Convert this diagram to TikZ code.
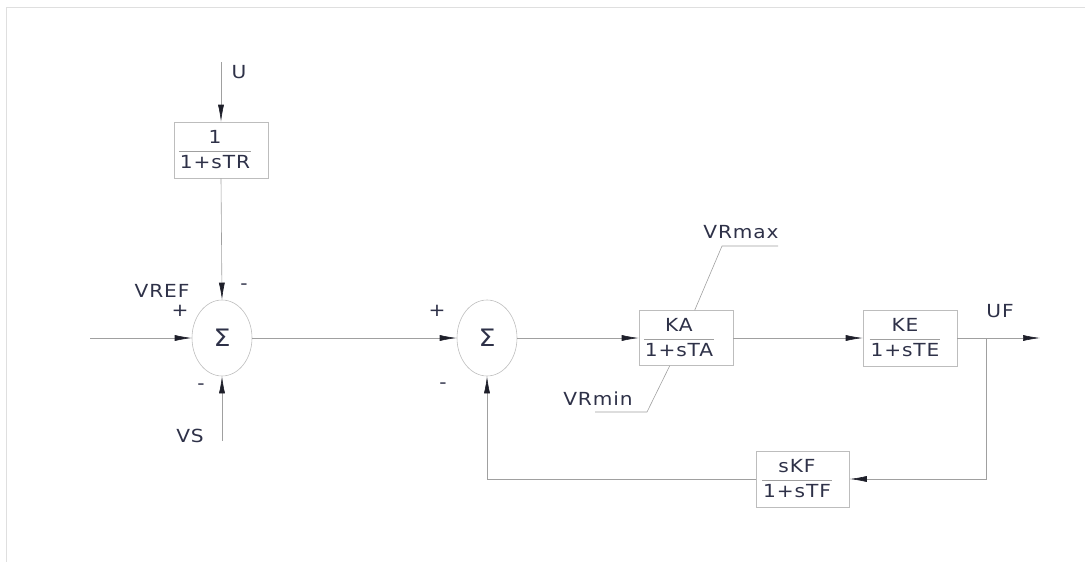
\documentclass[tikz,border=0pt]{standalone}
\usepackage{fontspec}
\setmainfont[FakeStretch=1.12,LetterSpace=5]{DejaVu Sans}
\usetikzlibrary{arrows.meta,shapes.geometric}
\usepackage{colortbl}
\definecolor{txt}{HTML}{2E3148}
\definecolor{wire}{HTML}{A0A0A0}
\definecolor{boxc}{HTML}{BDBDBD}
\definecolor{tipc}{HTML}{1E1F2A}
\newcommand{\myfrac}[2]{{\renewcommand{\arraystretch}{1.2}\setlength{\tabcolsep}{1pt}\arrayrulecolor{wire}\begin{tabular}{c}#1\\\hline #2\end{tabular}}}
\begin{document}
\begin{tikzpicture}[x=1pt,y=-1pt,
  every node/.style={text=txt,font=\fontsize{18}{20}\selectfont},
  wireline/.style={draw=wire,line width=0.6pt},
  arr/.style={wireline,-{Latex[length=17pt,width=6pt,fill=tipc,color=tipc]}},
  blk/.style={draw=boxc,line width=0.6pt,minimum width=94,minimum height=56,inner sep=0},
  fracnode/.style={inner sep=0},
  sumnode/.style={ellipse,draw=boxc,line width=0.6pt,minimum width=60,minimum height=76,inner sep=0,font=\fontsize{24}{26}\selectfont},
  lbl/.style={inner sep=0}]
\useasboundingbox (0,0) rectangle (1085,562);
% faint frame
\draw[gray!25,line width=0.6pt] (6,562) -- (6,7) -- (1085,7);

% blocks
\node[blk] (tr) at (221,150) {};
\node[fracnode] (trt) at ([xshift=-6,yshift=-1]tr.center) {\myfrac{1}{1+sTR}};
\node[sumnode] (s1) at (222,338) {Σ};
\node[sumnode] (s2) at (487,338) {Σ};
\node[blk,minimum width=94,minimum height=55] (ka) at (686,338) {};
\node[fracnode] (kat) at ([xshift=-7,yshift=-1]ka.center) {\myfrac{KA}{1+sTA}};
\node[blk] (ke) at (910,338) {};
\node[fracnode] (ket) at ([xshift=-5,yshift=-1]ke.center) {\myfrac{KE}{1+sTE}};
\node[blk,minimum width=93] (fb) at (803,479) {};
\node[fracnode] (fbt) at ([xshift=-6,yshift=-1]fb.center) {\myfrac{sKF}{1+sTF}};

% coordinates
\coordinate (uin) at (221,62);
\coordinate (vin) at (90,338);
\coordinate (vsin) at (222,441);
\coordinate (uout) at (1040,338);
\coordinate (br) at (986,338);
\coordinate (brd) at (986,479);
\coordinate (fbl) at (487,479);
\coordinate (vmaxa) at (722,246);
\coordinate (vmaxb) at (778,246);
\coordinate (vmina) at (647,412);
\coordinate (vminb) at (595,412);

% connectors
\draw[arr] (uin) -- (tr.north);
\draw[arr] (tr.south) -- (s1.north);
\draw[arr] (vin) -- (s1.west);
\draw[arr] (vsin) -- (s1.south);
\draw[arr] (s1.east) -- (s2.west);
\draw[arr] (s2.east) -- (ka.west);
\draw[arr] (ka.east) -- (ke.west);
\draw[arr] (ke.east) -- (uout);
\draw[arr] (br) -- (brd) -- (fb.east);
\draw[arr] (fb.west) -- (fbl) -- (s2.south);
\draw[wireline] ([xshift=56]ka.north west) -- (vmaxa) -- (vmaxb);
\draw[wireline] ([xshift=31]ka.south west) -- (vmina) -- (vminb);

% labels
\node[lbl] (lu) at (239,72) {U};
\node[lbl] (lvref) at (162,291) {VREF};
\node[lbl] (lp1) at (180,311) {+};
\node[lbl] (lm1) at (244,287) {-};
\node[lbl] (lm2) at (201,387) {-};
\node[lbl] (lvs) at (190,436) {VS};
\node[lbl] (lp3) at (437,311) {+};
\node[lbl] (lm3) at (443,386) {-};
\node[lbl] (lvmax) at (741,232) {VRmax};
\node[lbl] (lvmin) at (598,399) {VRmin};
\node[lbl] (luf) at (1000,311) {UF};
\end{tikzpicture}
\end{document}
